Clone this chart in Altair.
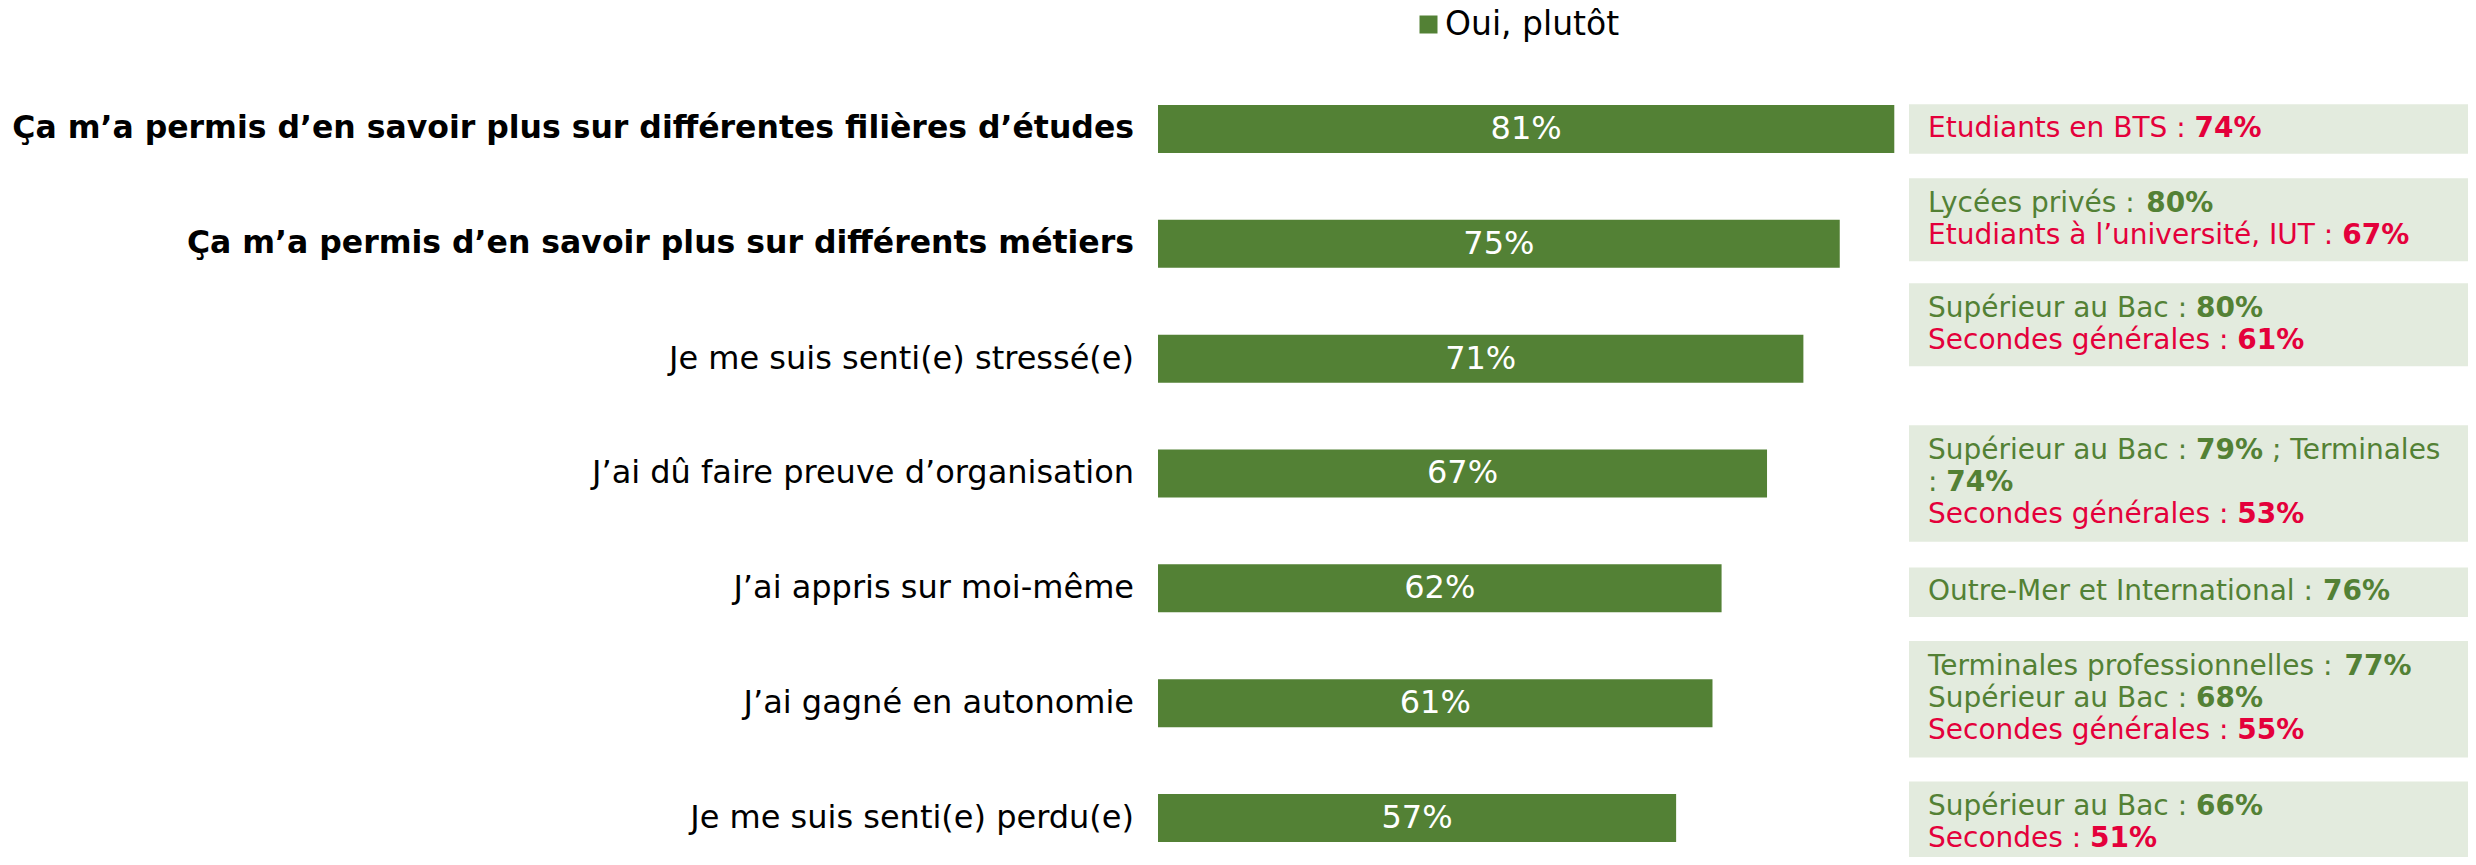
import altair as alt
import pandas as pd

# ---------------- data ----------------
CATEGORIES = [
    "Ça m’a permis d’en savoir plus sur différentes filières d’études",
    "Ça m’a permis d’en savoir plus sur différents métiers",
    "Je me suis senti(e) stressé(e)",
    "J’ai dû faire preuve d’organisation",
    "J’ai appris sur moi-même",
    "J’ai gagné en autonomie",
    "Je me suis senti(e) perdu(e)",
]
VALUES = [81, 75, 71, 67, 62, 61, 57]
BOLD_LABEL = [True, True, False, False, False, False, False]
SERIES = "Oui, plutôt"

# side notes: per category, list of lines (colour, [(text, bold), ...])
NOTES = [
    [("red", [("Etudiants en BTS : ", False), ("74%", True)])],
    [("green", [("Lycées privés : ", False), ("80%", True)]),
     ("red", [("Etudiants à l’université, IUT : ", False), ("67%", True)])],
    [("green", [("Supérieur au Bac : ", False), ("80%", True)]),
     ("red", [("Secondes générales : ", False), ("61%", True)])],
    [("green", [("Supérieur au Bac : ", False), ("79%", True), (" ; Terminales", False)]),
     ("green", [(": ", False), ("74%", True)]),
     ("red", [("Secondes générales : ", False), ("53%", True)])],
    [("green", [("Outre-Mer et International : ", False), ("76%", True)])],
    [("green", [("Terminales professionnelles : ", False), ("77%", True)]),
     ("green", [("Supérieur au Bac : ", False), ("68%", True)]),
     ("red", [("Secondes générales : ", False), ("55%", True)])],
    [("green", [("Supérieur au Bac : ", False), ("66%", True)]),
     ("red", [("Secondes : ", False), ("51%", True)])],
]

# ---------------- layout / style ----------------
GREEN = "#538135"
RED = "#E4003B"
BOX_BG = "#E3EBDE"
FONT = "DejaVu Sans"

W, H = 2460, 849
PX_PER_PCT = 9.09
X_ZERO = 1150
ROW_PX = 114.83
Y_FIRST = 121
BAR_HALF = 24
BOX_SHIFT_PX = [0, -24, -34, 10, 4, -4, 5]
BOX_X0_PX = 1901
TEXT_X0_PX = 1920
NOTE_SIZE = 28
LINE_PX = 32

x_dom = [-X_ZERO / PX_PER_PCT, (W - X_ZERO) / PX_PER_PCT]
y_dom = [-Y_FIRST / ROW_PX, (H - Y_FIRST) / ROW_PX]

REG = {' ': .318, '%': .950, '(': .390, ')': .390, ',': .318, '-': .361, ':': .337, ';': .337,
       '’': .318, 'A': .684, 'B': .686, 'C': .698, 'D': .770, 'E': .632, 'F': .575, 'G': .775,
       'H': .752, 'I': .295, 'J': .295, 'K': .656, 'L': .557, 'M': .863, 'N': .748, 'O': .787,
       'P': .603, 'Q': .787, 'R': .695, 'S': .635, 'T': .611, 'U': .732, 'V': .684, 'W': .989,
       'a': .613, 'b': .635, 'c': .550, 'd': .635, 'e': .615, 'f': .352, 'g': .635, 'h': .634,
       'i': .278, 'j': .278, 'k': .579, 'l': .278, 'm': .974, 'n': .634, 'o': .612, 'p': .635,
       'q': .635, 'r': .411, 's': .521, 't': .392, 'u': .634, 'v': .592, 'w': .818, 'x': .592,
       'y': .592, 'z': .525, 'à': .613, 'é': .615, 'è': .615, 'ê': .615, 'ô': .612, 'û': .634}
for d in "0123456789":
    REG[d] = .636
BOLD = {' ': .348, '%': 1.002, ':': .400, ';': .400}
for d in "0123456789":
    BOLD[d] = .696
KERN = {"Te": -0.10}


def text_w(s, size, bold):
    tab = BOLD if bold else REG
    w = sum(tab.get(ch, .62) for ch in s)
    w += sum(KERN.get(s[i:i + 2], 0) for i in range(len(s) - 1))
    return w * size


# ---------------- frames ----------------
bars = pd.DataFrame({
    "cat": CATEGORIES,
    "value": VALUES,
    "bold": BOLD_LABEL,
    "row": list(range(len(CATEGORIES))),
})
bars["serie"] = SERIES
bars["y0"] = bars["row"] - BAR_HALF / ROW_PX
bars["y1"] = bars["row"] + BAR_HALF / ROW_PX
bars["zero"] = 0
bars["mid"] = bars["value"] / 2
bars["lab"] = bars["value"].astype(str) + "%"

box_rows, seg_rows = [], []
for r, lines in enumerate(NOTES):
    n = len(lines)
    center_px = r * ROW_PX + BOX_SHIFT_PX[r]
    half = (16 + 33.5 * n) / 2
    box_rows.append({"y0": (center_px - half) / ROW_PX, "y1": (center_px + half) / ROW_PX,
                     "x0": (BOX_X0_PX - X_ZERO) / PX_PER_PCT, "x1": x_dom[1]})
    for i, (col, segs) in enumerate(lines):
        ly = (center_px + (i - (n - 1) / 2) * LINE_PX) / ROW_PX
        off = 0.0
        for txt, b in segs:
            lead = len(txt) - len(txt.lstrip())
            off += text_w(txt[:lead], NOTE_SIZE, b)
            core = txt.strip()
            seg_rows.append({"x": (TEXT_X0_PX - X_ZERO + off) / PX_PER_PCT, "y": ly,
                             "t": core, "bold": b, "col": col})
            off += text_w(txt[lead:], NOTE_SIZE, b)
boxes = pd.DataFrame(box_rows)
segs = pd.DataFrame(seg_rows)

xs = alt.Scale(domain=x_dom, nice=False, zero=False)
ys = alt.Scale(domain=y_dom, nice=False, zero=False, reverse=True)

box_layer = alt.Chart(boxes).mark_rect(color=BOX_BG).encode(
    x=alt.X("x0:Q", scale=xs, axis=None), x2="x1:Q",
    y=alt.Y("y0:Q", scale=ys, axis=None), y2="y1:Q")

bar_layer = alt.Chart(bars).mark_rect().encode(
    x=alt.X("zero:Q", scale=xs, axis=None), x2="value:Q",
    y=alt.Y("y0:Q", scale=ys, axis=None), y2="y1:Q",
    color=alt.Color("serie:N", scale=alt.Scale(domain=[SERIES], range=[GREEN]),
                    legend=alt.Legend(orient="none", legendX=1404, legendY=0, title=None,
                                      direction="horizontal", symbolType="square",
                                      symbolSize=324, symbolStrokeWidth=0,
                                      labelFontSize=33, labelFont=FONT, labelColor="black",
                                      labelOffset=0, labelLimit=400, padding=0)))

val_layer = alt.Chart(bars).mark_text(color="white", fontSize=32, font=FONT,
                                      baseline="middle", align="center").encode(
    x=alt.X("mid:Q", scale=xs, axis=None), y=alt.Y("row:Q", scale=ys, axis=None),
    text="lab:N")

cat_reg = alt.Chart(bars).transform_filter("!datum.bold").mark_text(
    color="black", fontSize=32, font=FONT, align="right", baseline="middle", dx=-24).encode(
    x=alt.X("zero:Q", scale=xs, axis=None), y=alt.Y("row:Q", scale=ys, axis=None), text="cat:N")

cat_bold = alt.Chart(bars).transform_filter("datum.bold").mark_text(
    color="black", fontSize=31.5, font=FONT, fontWeight="bold", align="right",
    baseline="middle", dx=-24).encode(
    x=alt.X("zero:Q", scale=xs, axis=None), y=alt.Y("row:Q", scale=ys, axis=None), text="cat:N")

note_layers = []
for col, hexc in (("green", GREEN), ("red", RED)):
    for b in (False, True):
        sub = segs[(segs["col"] == col) & (segs["bold"] == b)]
        note_layers.append(
            alt.Chart(sub).mark_text(color=hexc, fontSize=NOTE_SIZE, font=FONT,
                                     fontWeight="bold" if b else "normal",
                                     align="left", baseline="middle").encode(
                x=alt.X("x:Q", scale=xs, axis=None), y=alt.Y("y:Q", scale=ys, axis=None),
                text="t:N"))

chart = alt.layer(box_layer, bar_layer, val_layer, cat_reg, cat_bold, *note_layers).properties(
    width=W, height=H, padding=0, autosize=alt.AutoSizeParams(type="none"),
    background="white",
).configure(font=FONT).configure_view(stroke=None)

chart.save("out.html", embed_options={"renderer": "svg", "actions": False})
